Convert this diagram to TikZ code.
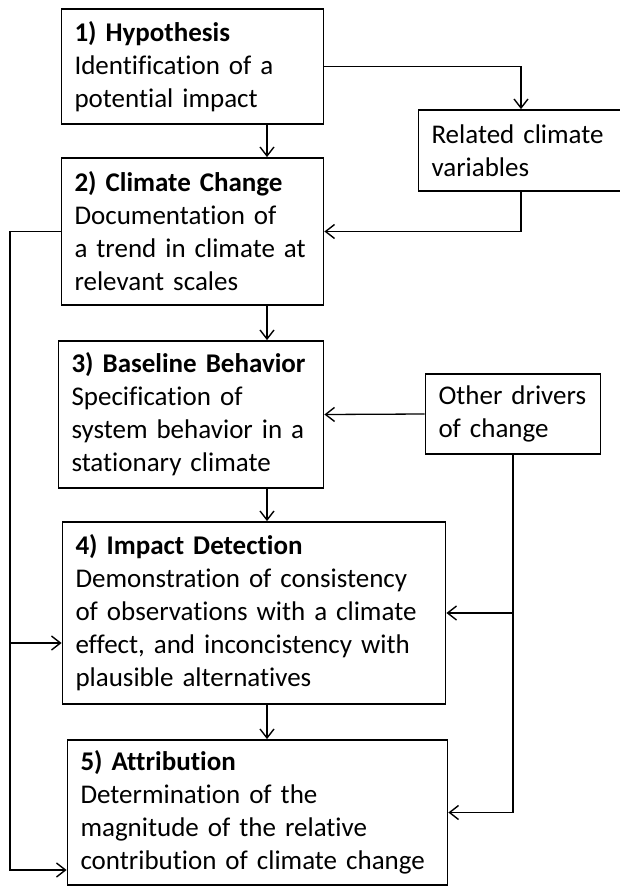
\documentclass[tikz,border=0pt]{standalone}
\usepackage{fontspec}
\setmainfont{Carlito}[Ligatures=NoCommon]
\usepackage{tikz}
\usetikzlibrary{arrows.meta}

\begin{document}
\begin{tikzpicture}[x=1pt, y=-1pt,
    stepbox/.style={draw, line width=1.8pt, align=left, inner xsep=13pt, inner ysep=0pt,
      font=\fontsize{27}{33}\selectfont},
    arr/.style={line width=1.3pt, -{Straight Barb[length=9pt,width=14pt,line width=1.4pt]}}]
  \useasboundingbox (0,0) rectangle (620,886);
  \clip (0,0) rectangle (620,886);
  \fill[white] (0,0) rectangle (620,886);

  \coordinate (xa) at (267,0);
  \coordinate (xl) at (10,0);
  \coordinate (xr) at (521,0);

  \node[stepbox, text width=236pt, minimum height=115pt] (hyp) at (192.5,66.5)
    {\textbf{1) Hypothesis}\\Identification of a\\potential impact};
  \node[stepbox, text width=236pt, minimum height=147pt] (clim) at (192.5,231.5)
    {\textbf{2) Climate Change}\\Documentation of\\a trend in climate at\\relevant scales};
  \node[stepbox, text width=239pt, minimum height=147pt] (base) at (191,414.5)
    {\textbf{3) Baseline Behavior}\\Specification of\\system behavior in a\\stationary climate};
  \node[stepbox, text width=357pt, minimum height=182pt] (detect) at (254,613)
    {\textbf{4) Impact Detection}\\Demonstration of consistency\\of observations with a climate\\effect, and inconcistency with\\plausible alternatives};
  \node[stepbox, text width=354pt, minimum height=145pt] (attr) at (257.5,812.5)
    {\textbf{5) Attribution}\\Determination of the\\magnitude of the relative\\contribution of climate change};

  \node[stepbox, text width=195pt, minimum height=81pt] (related) at (529,150.5)
    {Related climate\\variables};
  \node[stepbox, text width=149pt, minimum height=80pt] (other) at (513,414)
    {Other drivers\\of change};

  \coordinate (in4) at ([yshift=-30pt]detect.west);
  \coordinate (in5) at ([yshift=-57.5pt]attr.west);

  \draw[arr] (hyp.south -| xa) -- (clim.north -| xa);
  \draw[arr] (clim.south -| xa) -- (base.north -| xa);
  \draw[arr] (base.south -| xa) -- (detect.north -| xa);
  \draw[arr] (detect.south -| xa) -- (attr.north -| xa);

  \draw[arr] (hyp.east) -| (related.north -| xr);
  \draw[arr] (related.south -| xr) |- (clim.east);

  \draw[arr] (clim.west) -| (in5 -| xl) -- (in5);
  \draw[arr] (in4 -| xl) -- (in4);

  \draw[arr] (other.west) -- (base.east);
  \draw[arr] (other.south) |- (attr.east);
  \draw[arr] (other.south |- detect.east) -- (detect.east);
\end{tikzpicture}
\end{document}
